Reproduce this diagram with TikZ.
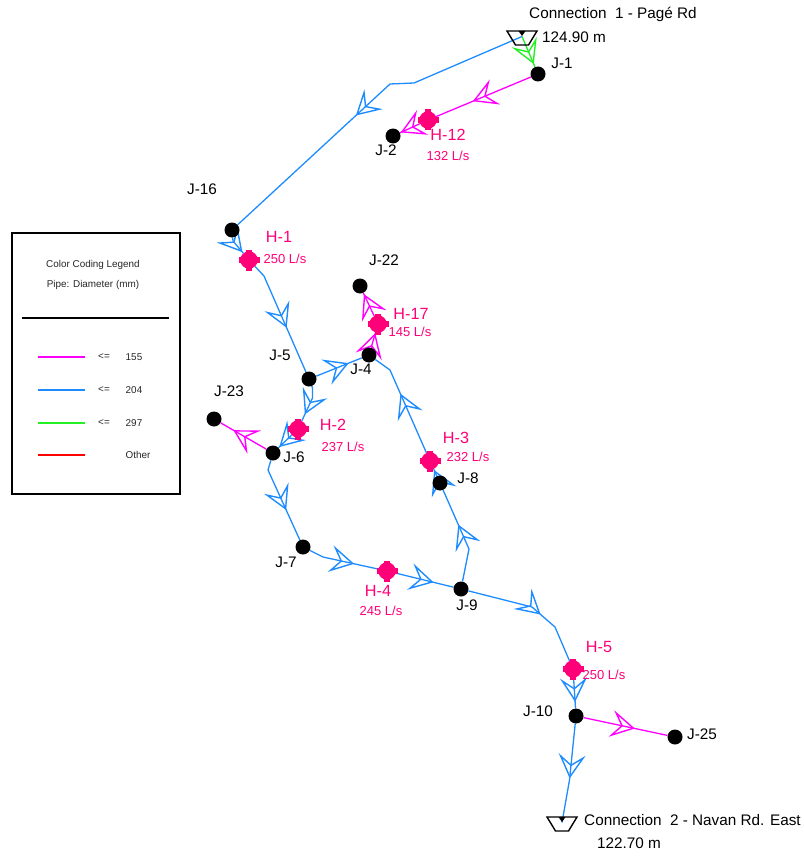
\documentclass[tikz,border=0pt]{standalone}
\usepackage{xcolor}
\usepackage{fontspec}
\setmainfont{Liberation Sans}
\usetikzlibrary{arrows.meta,decorations.markings}

\pgfdeclarelayer{pipes}
\pgfsetlayers{pipes,main}

\definecolor{pipemagenta}{HTML}{FF00FF}
\definecolor{pipeblue}{HTML}{1E8CFF}
\definecolor{pipegreen}{HTML}{22F022}
\definecolor{pipered}{HTML}{FF0000}
\definecolor{hydrant}{HTML}{FF0078}

\tikzset{
    pipe/.style={line width=1.3pt},
    flow/.style={postaction={decorate},decoration={markings,
        mark=at position #1 with {\arrow[line width=1.4pt]{Stealth[open,length=24pt,width=27pt,inset=10pt]}}}},
    junction/.style={circle,fill=black,inner sep=0pt,minimum size=15pt},
    pump/.style={circle,fill=hydrant,inner sep=0pt,minimum size=17.5pt},
    jtext/.style={inner sep=0pt,font=\fontsize{15.3}{17}\selectfont},
    htext/.style={inner sep=0pt,text=hydrant,font=\fontsize{16.2}{18}\selectfont},
    qtext/.style={inner sep=0pt,text=hydrant,font=\fontsize{13}{15}\selectfont},
    legtext/.style={inner sep=0pt,text=black!85,font=\fontsize{9.9}{12}\selectfont},
}

\begin{document}
\begin{tikzpicture}[x=1pt,y=-1pt]
    \useasboundingbox (0,0) rectangle (803,856);

    % Junctions
    \foreach \jn/\x/\y in {J-1/538/74, J-2/393/136, J-16/232/230, J-22/360/286, J-4/369/355,
        J-5/309/379, J-23/214/419, J-6/273/453, J-7/303/547, J-8/440/483, J-9/461/589,
        J-10/576/716, J-25/675/737} {
        \node[junction] (\jn) at (\x,\y) {};
    }
    % Hydrants with their cross arms
    \foreach \hn/\x/\y in {H-1/249/260, H-2/298/429, H-3/430/461, H-4/387/571, H-5/573/669,
        H-12/428/120, H-17/378/324} {
        \node[pump] (\hn) at (\x,\y) {};
        \fill[hydrant] (\x-10.5,\y-3.2) rectangle (\x+10.5,\y+3.2);
        \fill[hydrant] (\x-3.2,\y-10.5) rectangle (\x+3.2,\y+10.5);
    }
    % Reservoirs
    \foreach \rn/\x/\y in {R-1/522/31, R-2/562/817} {
        \coordinate (\rn) at (\x,\y+5.5);
        \draw[line width=1.4pt] (\x-15,\y) -- (\x+15,\y) -- (\x+6.5,\y+14) -- (\x-6.5,\y+14) -- cycle;
        \fill (\x-3.5,\y) -- (\x+3.5,\y) -- (\x,\y+5) -- cycle;
    }

    \begin{pgfonlayer}{pipes}
    % Blue pipes
    \begin{scope}[pipe,pipeblue]
        \draw[flow=188pt] (R-1) -- (414,83) -- (390,84) -- (J-16);
        \draw[flow=18pt] (J-16) -- (233,241) -- (H-1);
        \draw[flow=69.5pt] (H-1) -- (264,276) -- (J-5);
        \draw[flow=35pt] (J-5) -- (J-4);
        \draw[flow=30pt] (J-5) -- (312.5,388) -- (312.5,398) -- (H-2);
        \draw[flow=17pt] (H-2) -- (J-6);
        \draw[flow=64.5pt] (H-3) -- (390,370) -- (J-4);
        \draw[flow=6.5pt] (J-8) -- (H-3);
        \draw[flow=59.7pt] (J-9) -- (469,549) -- (J-8);
        \draw[flow=54pt] (J-6) -- (268,470) -- (J-7);
        \draw[flow=46.5pt] (J-7) -- (323,557) -- (H-4);
        \draw[flow=39pt] (H-4) -- (J-9);
        \draw[flow=77pt] (J-9) -- (532,607) -- (555,627) -- (H-5);
        \draw[flow=24pt] (H-5) -- (J-10);
        \draw[flow=55pt] (J-10) -- (569.5,780) -- (R-2);
    \end{scope}
    % Magenta pipes
    \begin{scope}[pipe,pipemagenta]
        \draw[flow=63pt] (J-1) -- (H-12);
        \draw[flow=21pt] (H-12) -- (J-2);
        \draw[flow=38pt] (J-6) -- (J-23);
        \draw[flow=15pt] (J-4) -- (H-17);
        \draw[flow=24pt] (H-17) -- (J-22);
        \draw[flow=52.5pt] (J-10) -- (J-25);
    \end{scope}
    % Green pipe
    \draw[pipe,pipegreen,flow=30pt] (R-1) -- (J-1);
    \end{pgfonlayer}

    % Junction labels
    \foreach \txt/\x/\y in {J-1/562/63, J-2/386/150, J-16/202/189, J-22/384/260, J-5/280/355,
        J-4/361/369, J-23/229/391, J-6/294/457, J-7/286/562, J-8/468/478, J-9/467/605,
        J-10/538/711, J-25/702/734} {
        \node[jtext] (lab\txt) at (\x,\y) {\txt};
    }
    % Hydrant labels
    \foreach \txt/\flowtxt/\x/\y/\fx/\fy in {H-12/132/448/135/448/156, H-1/250/279/237/285/259,
        H-17/145/411/314/410/332, H-2/237/333/425/343/447, H-3/232/456/438/468/457,
        H-4/245/378/591/381/611, H-5/250/599/647/604/675} {
        \node[htext] (lab\txt) at (\x,\y) {\txt};
        \node[qtext] (q\txt) at (\fx,\fy) {\flowtxt{} L/s};
    }
    % Reservoir labels
    \node[jtext,anchor=west] (labR1) at (529,14) {Connection\ \ 1 - Pagé Rd};
    \node[jtext,anchor=west] (elevR1) at (542,37) {124.90 m};
    \node[jtext,anchor=west] (labR2) at (584,820) {Connection\ \ 2 - Navan Rd. East};
    \node[jtext,anchor=west] (elevR2) at (597,843) {122.70 m};

    % Legend
    \node[draw,line width=1.4pt,inner sep=0pt,minimum width=168pt,minimum height=261pt] (legend) at (96,363.5) {};
    \node[legtext] (legtitle) at (93,265) {Color Coding Legend};
    \node[legtext] (legsub) at (93,285) {Pipe: Diameter (mm)};
    \coordinate (ruleL) at (22,318);
    \coordinate (ruleR) at (169,318);
    \draw[line width=1.4pt] (ruleL) -- (ruleR);
    \foreach \col/\y/\txt/\tx in {pipemagenta/357/155/134, pipeblue/390/204/134, pipegreen/423/297/134} {
        \coordinate (a\col) at (38,\y);
        \coordinate (b\col) at (85,\y);
        \draw[pipe,\col] (a\col) -- (b\col);
        \node[legtext] (le\col) at (104,\y) {<=};
        \node[legtext] (val\col) at (\tx,\y) {\txt};
    }
    \coordinate (aother) at (38,455);
    \coordinate (bother) at (85,455);
    \draw[pipe,pipered] (aother) -- (bother);
    \node[legtext] (valother) at (138,455) {Other};
\end{tikzpicture}
\end{document}
